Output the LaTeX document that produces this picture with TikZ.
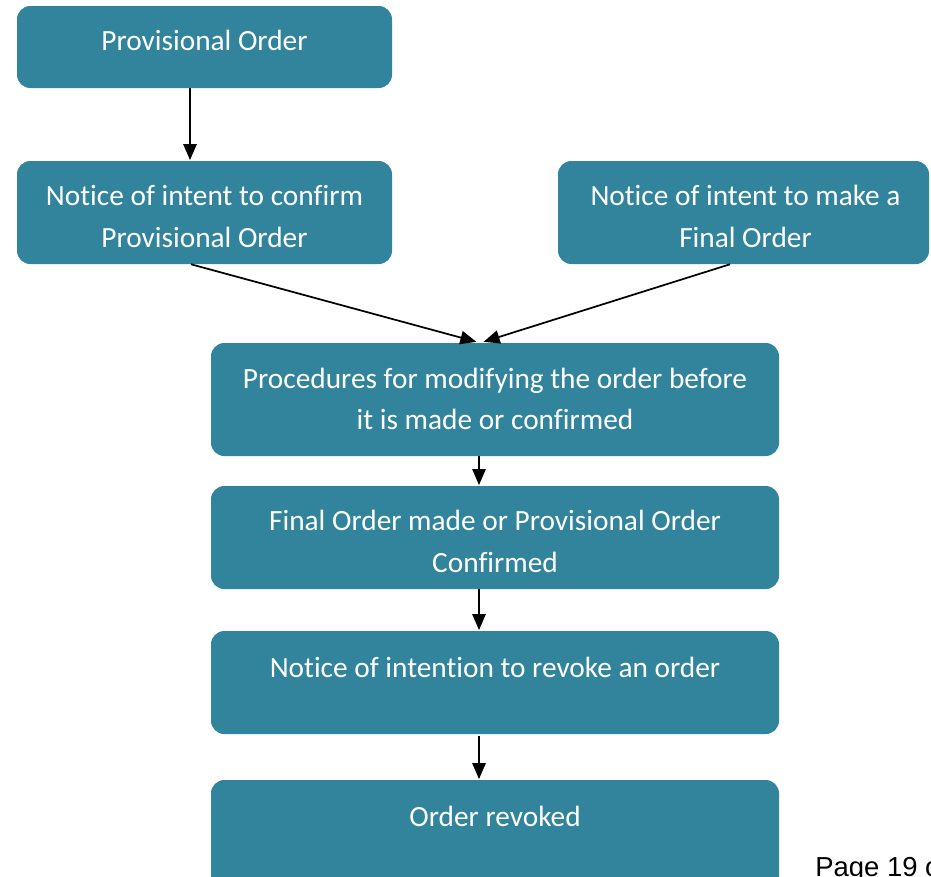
\documentclass[tikz,border=0pt]{standalone}
\usepackage{fontspec}
\setmainfont{Carlito}[Ligatures=CommonOff]
\newfontfamily\pagefont{Liberation Sans}
\usetikzlibrary{arrows.meta}
\definecolor{boxteal}{RGB}{49,132,155}
\tikzset{
  box/.style={fill=boxteal, draw=none, rounded corners=10pt, inner sep=0pt},
  txt/.style={text=white, font=\fontsize{22}{26}\selectfont, anchor=base, inner sep=0pt},
  arr/.style={draw=black, line width=1.3pt, -{Triangle[length=12pt,width=10pt]}, shorten >=0.5pt},
}
\begin{document}
\begin{tikzpicture}[x=0.75pt,y=-0.75pt]
\useasboundingbox (0,0) rectangle (931,876);
\clip (0,0) rectangle (931,876);

% boxes
\node[box, minimum width=281.25pt, minimum height=61.5pt] (prov) at (204.5,47) {};
\node[box, minimum width=281.25pt, minimum height=77.25pt] (conf) at (204.5,212.5) {};
\node[box, minimum width=278.25pt, minimum height=77.25pt] (fin) at (743.5,212.5) {};
\node[box, minimum width=426pt, minimum height=84.75pt] (proc) at (495,399.5) {};
\node[box, minimum width=426pt, minimum height=77.25pt] (made) at (495,537.5) {};
\node[box, minimum width=426pt, minimum height=77.25pt] (revk) at (495,682.5) {};
\node[box, minimum width=426pt, minimum height=90pt] (done) at (495,840) {};

% box texts
\node[txt] (t1) at (204.5,50) {Provisional Order};
\node[txt] (t2a) at (204.5,205) {Notice of intent to confirm};
\node[txt] (t2b) at (204.5,247) {Provisional Order};
\node[txt] (t3a) at (745.5,205) {Notice of intent to make a};
\node[txt] (t3b) at (745.5,247) {Final Order};
\node[txt] (t4a) at (495,388) {Procedures for modifying the order before};
\node[txt] (t4b) at (495,429) {it is made or confirmed};
\node[txt] (t5a) at (495,530) {Final Order made or Provisional Order};
\node[txt] (t5b) at (495,572) {Confirmed};
\node[txt] (t6) at (495,677) {Notice of intention to revoke an order};
\node[txt] (t7) at (495,826) {Order revoked};

% page footer, running off the page edge
\node[anchor=base west, inner sep=0pt, font=\pagefont\fontsize{20.6}{24}\selectfont] (pg) at (815,876) {Page 19 of};

% connector columns
\coordinate (cA) at (190,0);
\coordinate (cB) at (479,0);
\coordinate (jL) at (191,0);
\coordinate (jR) at (730,0);
\coordinate (mL) at (477,342);
\coordinate (mR) at (483,342);

\draw[arr] (cA |- prov.south) -- (cA |- conf.north);
\draw[arr] (jL |- conf.south) -- (mL);
\draw[arr] (jR |- fin.south) -- (mR);
\draw[arr] (cB |- proc.south) -- (cB |- made.north);
\draw[arr] (cB |- made.south) -- (cB |- revk.north);
\draw[arr] ([yshift=-1.5pt]cB |- revk.south) -- (cB |- done.north);
\end{tikzpicture}
\end{document}
